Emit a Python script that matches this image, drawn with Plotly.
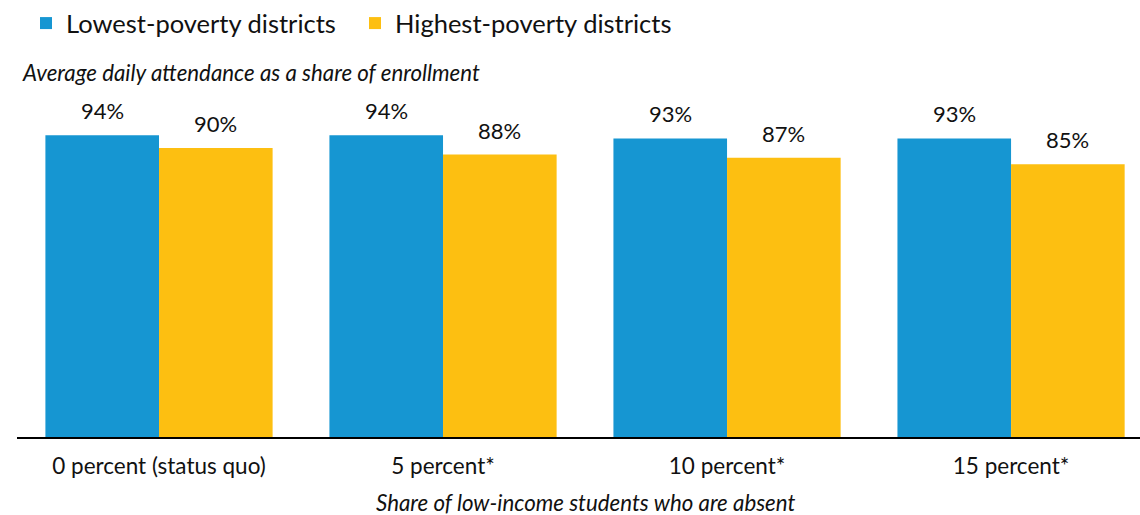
import plotly.graph_objects as go

# Data
categories = ["0 percent (status quo)", "5 percent*", "10 percent*", "15 percent*"]
lowest_poverty = [94, 94, 93, 93]
highest_poverty = [90, 88, 87, 85]
series_names = ["Lowest-poverty districts", "Highest-poverty districts"]

BLUE = "#1696d2"
YELLOW = "#fdbf11"
TEXT = "#111111"
FONT = "Lato"

W, H = 1140, 515
M_L, M_R, M_T, M_B = 17, 0, 116, 78

fig = go.Figure()
fig.add_trace(go.Bar(x=categories, y=lowest_poverty, name=series_names[0],
                     marker=dict(color=BLUE, line=dict(width=0))))
fig.add_trace(go.Bar(x=categories, y=highest_poverty, name=series_names[1],
                     marker=dict(color=YELLOW, line=dict(width=0))))

# value labels above each bar
plot_w = W - M_L - M_R
plot_h = H - M_T - M_B
x_range = [-0.5, 3.454]
cat_px = plot_w / (x_range[1] - x_range[0])
bar_px = cat_px * 0.8 / 2
for vals, shift in ((lowest_poverty, -bar_px / 2), (highest_poverty, bar_px / 2)):
    for cat, v in zip(categories, vals):
        fig.add_annotation(x=cat, y=v, xref="x", yref="y", text=f"{v}%",
                           showarrow=False, xshift=shift, yshift=9,
                           yanchor="bottom",
                           font=dict(family=FONT, size=22, color=TEXT))

# axis titles (pixel rows converted to paper coordinates)
fig.add_annotation(x=3 / plot_w, y=(H - M_B - 72) / plot_h,
                   xref="paper", yref="paper",
                   text="<i>Average daily attendance as a share of enrollment</i>",
                   showarrow=False, xanchor="left", yanchor="middle",
                   font=dict(family=FONT, size=22.3, color=TEXT))
fig.add_annotation(x=(585 - M_L) / plot_w, y=(H - M_B - 502) / plot_h,
                   xref="paper", yref="paper",
                   text="<i>Share of low-income students who are absent</i>",
                   showarrow=False, xanchor="center", yanchor="middle",
                   font=dict(family=FONT, size=22.3, color=TEXT))

fig.update_layout(
    width=W, height=H,
    margin=dict(l=M_L, r=M_R, t=M_T, b=M_B, pad=0),
    barmode="group", bargap=0.2, bargroupgap=0,
    plot_bgcolor="white", paper_bgcolor="white",
    font=dict(family=FONT, size=22, color=TEXT),
    showlegend=True,
    legend=dict(orientation="h", x=26 / W, xanchor="left", y=1.0,
                yanchor="top", yref="container", xref="container",
                font=dict(family=FONT, size=25.5, color=TEXT),
                itemwidth=30, tracegroupgap=0, bgcolor="rgba(0,0,0,0)",
                entrywidth=284, entrywidthmode="pixels"),
    xaxis=dict(range=x_range, showgrid=False, zeroline=False,
               showline=True, linecolor="#000000", linewidth=2,
               ticks="", ticklabelstandoff=8,
               tickfont=dict(family=FONT, size=22.5, color=TEXT)),
    yaxis=dict(range=[0, 100], visible=False, showgrid=False, zeroline=False),
)

fig.write_html("out.html")
